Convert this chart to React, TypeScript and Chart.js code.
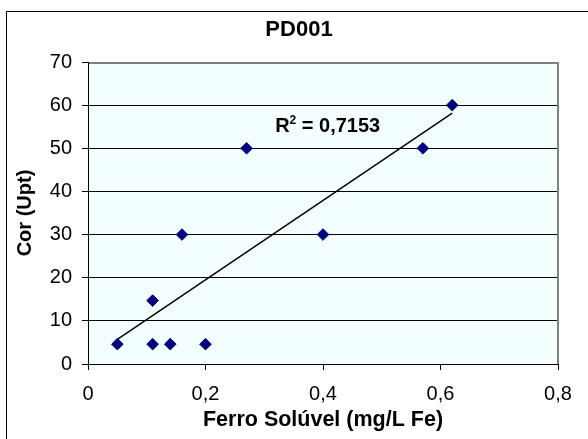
import React, { useEffect, useRef } from 'react';
import { Chart, registerables } from 'chart.js';

Chart.register(...registerables);

// ---- data ----
const chartTitle = 'PD001';
const xAxisTitle = 'Ferro Solúvel (mg/L Fe)';
const yAxisTitle = 'Cor (Upt)';
const ferroSoluvel = [0.05, 0.11, 0.11, 0.14, 0.16, 0.2, 0.27, 0.4, 0.57, 0.62];
const corUpt = [4.6, 14.7, 4.6, 4.6, 30, 4.6, 50, 30, 50, 60];
const xTickLabels = ['0', '0,2', '0,4', '0,6', '0,8'];
const yTickLabels = ['0', '10', '20', '30', '40', '50', '60', '70'];
const r2Value = '0,7153';

// ---- style / placement constants ----
const FONT = 'Arial, "Liberation Sans", Helvetica, sans-serif';
const R2_ANCHOR = { x: 0.408, y: 55.4 };
const PLOT_BG = '#F4FFFF';
const MARKER = '#000080';

function linearFit(xs: number[], ys: number[]) {
  const n = xs.length;
  const mx = xs.reduce((a, b) => a + b, 0) / n;
  const my = ys.reduce((a, b) => a + b, 0) / n;
  let sxy = 0;
  let sxx = 0;
  for (let i = 0; i < n; i++) {
    sxy += (xs[i] - mx) * (ys[i] - my);
    sxx += (xs[i] - mx) * (xs[i] - mx);
  }
  const slope = sxy / sxx;
  return { slope, intercept: my - slope * mx };
}

const framePlugin = {
  id: 'framePlugin',
  beforeDraw(chart: any) {
    const { ctx, chartArea: a, width, height } = chart;
    ctx.save();
    ctx.fillStyle = '#ffffff';
    ctx.fillRect(0, 0, width, height);
    ctx.strokeStyle = '#000000';
    ctx.lineWidth = 1;
    ctx.beginPath();
    ctx.moveTo(6.5, height);
    ctx.lineTo(6.5, 11.5);
    ctx.lineTo(width, 11.5);
    ctx.stroke();
    ctx.fillStyle = PLOT_BG;
    ctx.fillRect(a.left, a.top, a.right - a.left, a.bottom - a.top);
    ctx.restore();
  },
  beforeDatasetsDraw(chart: any) {
    const { ctx, chartArea: a } = chart;
    ctx.save();
    ctx.strokeStyle = '#808080';
    ctx.lineWidth = 2;
    ctx.beginPath();
    ctx.moveTo(a.left + 1, a.top + 1);
    ctx.lineTo(a.right, a.top + 1);
    ctx.lineTo(a.right, a.bottom);
    ctx.stroke();
    ctx.restore();
  },
  afterDatasetsDraw(chart: any) {
    const { ctx } = chart;
    const xs = chart.scales.x;
    const ys = chart.scales.y;
    const cx = xs.getPixelForValue(R2_ANCHOR.x);
    const cy = ys.getPixelForValue(R2_ANCHOR.y);
    const big = `bold 20px ${FONT}`;
    const small = `bold 12px ${FONT}`;
    const rest = ` = ${r2Value}`;
    ctx.save();
    ctx.fillStyle = '#000000';
    ctx.textBaseline = 'alphabetic';
    ctx.textAlign = 'left';
    ctx.font = big;
    const wR = ctx.measureText('R').width;
    const wRest = ctx.measureText(rest).width;
    ctx.font = small;
    const w2 = ctx.measureText('2').width;
    const total = wR + w2 + wRest;
    let x = cx - total / 2;
    const baseline = cy + 7;
    ctx.font = big;
    ctx.fillText('R', x, baseline);
    x += wR;
    ctx.font = small;
    ctx.fillText('2', x, baseline - 8);
    x += w2;
    ctx.font = big;
    ctx.fillText(rest, x, baseline);
    ctx.restore();
  },
};

export default function App() {
  const canvasRef = useRef<HTMLCanvasElement | null>(null);

  useEffect(() => {
    const canvas = canvasRef.current;
    if (!canvas) return;
    const fit = linearFit(ferroSoluvel, corUpt);
    const xMin = Math.min(...ferroSoluvel);
    const xMax = Math.max(...ferroSoluvel);
    const trend = [
      { x: xMin, y: fit.intercept + fit.slope * xMin },
      { x: xMax, y: fit.intercept + fit.slope * xMax },
    ];
    const points = ferroSoluvel.map((x, i) => ({ x, y: corUpt[i] }));

    const chart = new Chart(canvas, {
      type: 'scatter',
      data: {
        datasets: [
          {
            label: 'Cor',
            data: points,
            pointStyle: 'rectRot',
            pointRadius: 5.8,
            pointBackgroundColor: MARKER,
            pointBorderColor: MARKER,
            pointBorderWidth: 1,
            showLine: false,
          } as any,
          {
            type: 'line',
            label: 'Linear',
            data: trend,
            borderColor: '#000000',
            borderWidth: 1.5,
            pointRadius: 0,
            fill: false,
          } as any,
        ],
      },
      options: {
        responsive: false,
        animation: false,
        layout: { padding: { left: 40, right: 30, top: 0, bottom: 0 } },
        plugins: {
          legend: { display: false },
          tooltip: { enabled: false },
          title: {
            display: true,
            text: chartTitle,
            color: '#000000',
            font: { family: FONT, size: 22, weight: 'bold' },
            padding: { top: 17, bottom: 18.6 },
          },
        },
        scales: {
          x: {
            type: 'linear',
            position: 'bottom',
            min: 0,
            max: 0.8,
            ticks: {
              stepSize: 0.2,
              padding: 12,
              color: '#000000',
              font: { family: FONT, size: 20 },
              maxRotation: 0,
              autoSkip: false,
              callback: (_v: any, i: number) => xTickLabels[i],
            },
            grid: {
              drawOnChartArea: false,
              drawTicks: true,
              tickLength: 6,
              color: '#000000',
            },
            border: { color: '#000000', width: 1 },
            title: {
              display: true,
              text: xAxisTitle,
              color: '#000000',
              font: { family: FONT, size: 21.5, weight: 'bold' },
              padding: { top: 0, bottom: 6 },
            },
            afterFit: (s: any) => {
              s.height = 75;
            },
          },
          y: {
            type: 'linear',
            min: 0,
            max: 70,
            ticks: {
              stepSize: 10,
              padding: 10,
              color: '#000000',
              font: { family: FONT, size: 20 },
              callback: (_v: any, i: number) => yTickLabels[i],
            },
            grid: {
              drawTicks: true,
              tickLength: 6,
              color: '#000000',
              lineWidth: 1,
            },
            border: { color: '#000000', width: 1 },
            title: {
              display: true,
              text: yAxisTitle,
              color: '#000000',
              font: { family: FONT, size: 20, weight: 'bold' },
              padding: { top: -27, bottom: 0 },
            },
            afterFit: (s: any) => {
              s.width = 48;
            },
          },
        },
      } as any,
      plugins: [framePlugin],
    });
    return () => chart.destroy();
  }, []);

  return (
    <div
      style={{
        position: 'fixed',
        left: 0,
        top: 0,
        width: 588,
        height: 439,
        background: '#ffffff',
      }}
    >
      <canvas ref={canvasRef} width={588} height={439} style={{ display: 'block' }} />
    </div>
  );
}
